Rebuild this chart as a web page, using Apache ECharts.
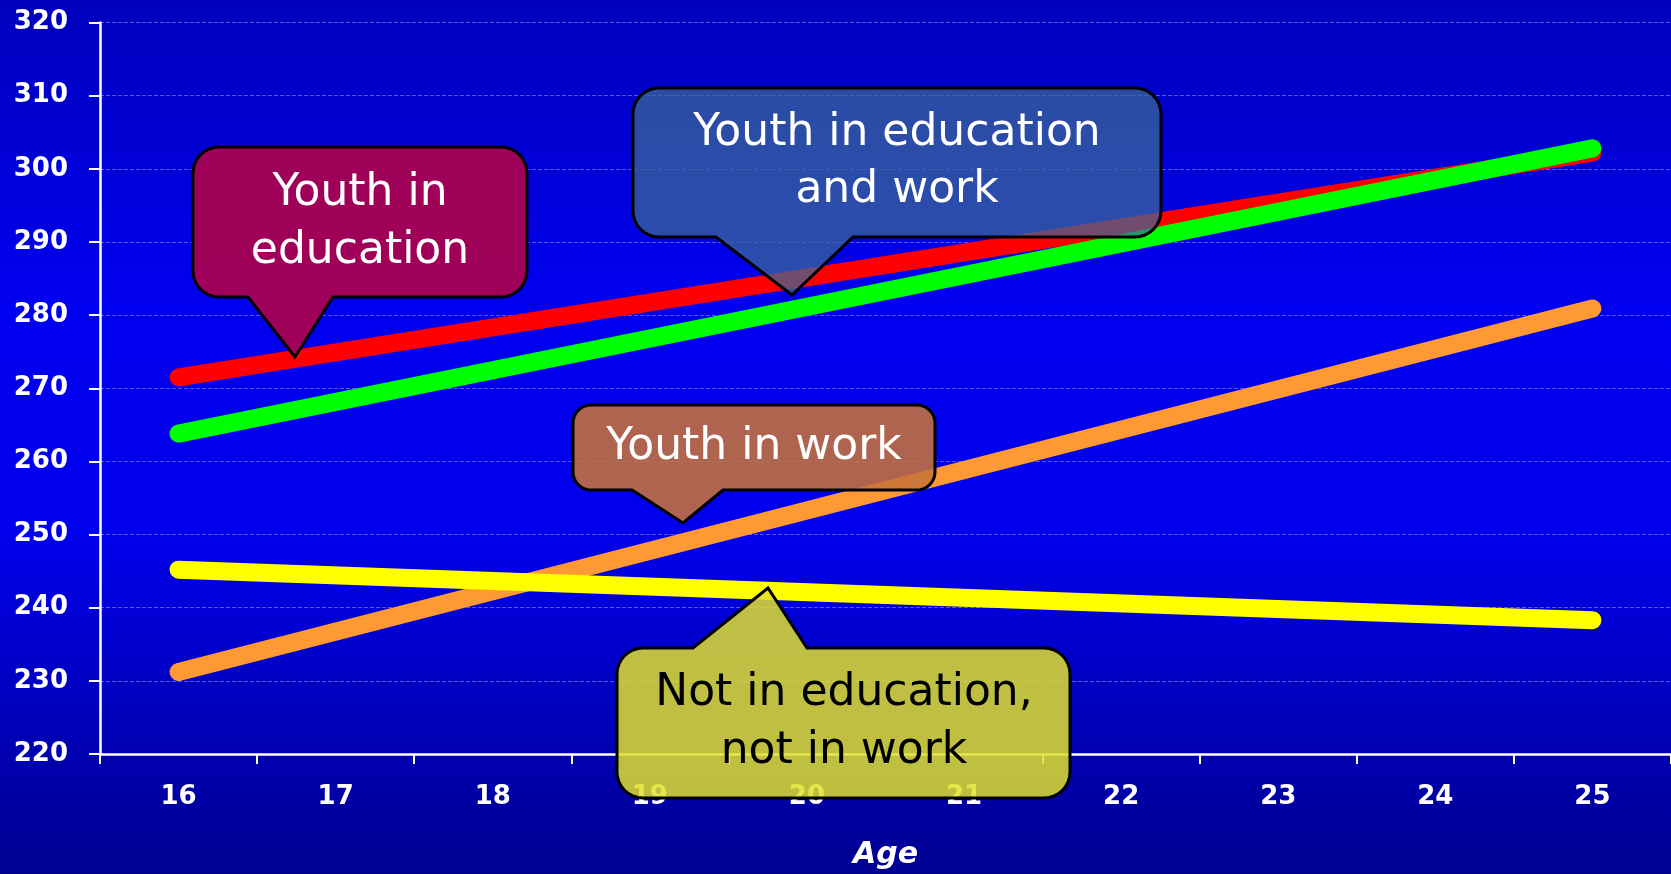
<!DOCTYPE html>
<html>
<head>
<meta charset="utf-8">
<title>Youth by age</title>
<script src="https://cdn.jsdelivr.net/npm/echarts@6/dist/echarts.min.js"></script>
<style>
    html, body { margin: 0; padding: 0; width: 100%; height: 100%; overflow: hidden; }
    #chart { width: 1671px; height: 874px; }
</style>
</head>
<body>
<div id="chart"></div>
<script>
// values read at age 16 and 25, straight lines in between
const ages = ['16', '17', '18', '19', '20', '21', '22', '23', '24', '25'];
const inEducation = [271.5, null, null, null, null, null, null, null, null, 302.2];
const inEducationAndWork = [263.8, null, null, null, null, null, null, null, null, 302.8];
const inWork = [231.2, null, null, null, null, null, null, null, null, 280.9];
const notInEducationNotInWork = [245.2, null, null, null, null, null, null, null, null, 238.3];

const FONT = '"DejaVu Sans", "Noto Sans", sans-serif';

// quarter arc points around a corner centre
function arc(cx, cy, r, a0, a1) {
    const pts = [];
    for (let i = 0; i <= 8; i++) {
        const a = a0 + (a1 - a0) * i / 8;
        pts.push([cx + r * Math.cos(a), cy + r * Math.sin(a)]);
    }
    return pts;
}

// rounded box with a pointer on the top or bottom edge, as polygon points
function calloutPoints(x0, y0, x1, y1, r, base0, base1, tipX, tipY) {
    const down = tipY > y1;
    const P = Math.PI;
    let pts = [];
    pts = pts.concat(arc(x0 + r, y0 + r, r, P, 1.5 * P));
    if (!down) pts.push([base0, y0], [tipX, tipY], [base1, y0]);
    pts = pts.concat(arc(x1 - r, y0 + r, r, 1.5 * P, 2 * P));
    pts = pts.concat(arc(x1 - r, y1 - r, r, 0, 0.5 * P));
    if (down) pts.push([base1, y1], [tipX, tipY], [base0, y1]);
    pts = pts.concat(arc(x0 + r, y1 - r, r, 0.5 * P, P));
    return pts;
}

function callout(points, fill, lines, cx, lineYs, color) {
    const els = [{
        type: 'polygon',
        z: 100,
        shape: { points: points },
        style: { fill: fill, stroke: '#000', lineWidth: 3, lineJoin: 'miter' }
    }];
    lines.forEach((t, i) => {
        els.push({
            type: 'text',
            z: 101,
            x: cx,
            y: lineYs[i],
            style: {
                text: t,
                fill: color,
                font: `44px ${FONT}`,
                textAlign: 'center',
                textVerticalAlign: 'middle'
            }
        });
    });
    return els;
}

const chart = echarts.init(document.getElementById('chart'));

const lineSeries = (name, data, color) => ({
    name: name,
    type: 'line',
    data: data,
    connectNulls: true,
    showSymbol: false,
    symbol: 'none',
    lineStyle: { color: color, width: 18, cap: 'round' },
    itemStyle: { color: color }
});

const option = {
    backgroundColor: {
        type: 'linear',
        x: 0, y: 0, x2: 0, y2: 1,
        colorStops: [
            { offset: 0, color: '#0000bc' },
            { offset: 0.35, color: '#0000f0' },
            { offset: 0.6, color: '#0000ee' },
            { offset: 1, color: '#000090' }
        ]
    },
    animation: false,
    grid: { left: 100, right: 0, top: 22.5, bottom: 120, outerBoundsMode: 'none' },
    xAxis: {
        type: 'category',
        data: ages,
        name: 'Age',
        nameLocation: 'middle',
        nameGap: 86,
        nameTextStyle: { color: '#fff', fontSize: 30, fontWeight: 'bold', fontStyle: 'italic', fontFamily: FONT },
        axisLine: { lineStyle: { color: '#fff', width: 2.5 } },
        axisTick: { show: true, length: 10, lineStyle: { color: '#fff', width: 2 } },
        axisLabel: { color: '#fff', fontSize: 26, fontWeight: 'bold', fontFamily: FONT, margin: 30 },
        splitLine: { show: false }
    },
    yAxis: {
        type: 'value',
        min: 220,
        max: 320,
        interval: 10,
        axisLine: { show: true, lineStyle: { color: '#fff', width: 2.5 } },
        axisTick: { show: true, length: 11, lineStyle: { color: '#fff', width: 2 } },
        axisLabel: { color: '#fff', fontSize: 26, fontWeight: 'bold', fontFamily: FONT, margin: 32 },
        splitLine: { show: true, lineStyle: { color: 'rgba(190,190,255,0.45)', type: [4, 2], width: 1 } }
    },
    series: [
        lineSeries('Youth in education', inEducation, '#ff0000'),
        lineSeries('Youth in education and work', inEducationAndWork, '#00ff00'),
        lineSeries('Youth in work', inWork, '#ff9933'),
        lineSeries('Not in education, not in work', notInEducationNotInWork, '#ffff00')
    ],
    graphic: [
        ...callout(calloutPoints(193, 147, 527, 297, 26, 248, 333, 295, 357),
            'rgba(166,0,82,0.96)', ['Youth in', 'education'], 360, [194, 252], '#fff'),
        ...callout(calloutPoints(633, 88, 1161, 237, 26, 716, 853, 792, 295),
            'rgba(60,105,150,0.72)', ['Youth in education', 'and work'], 897, [134, 191], '#fff'),
        ...callout(calloutPoints(573, 405, 935, 490, 18, 632, 723, 683, 523),
            'rgba(199,114,58,0.88)', ['Youth in work'], 754, [448], '#fff'),
        ...callout(calloutPoints(617, 648, 1070, 798, 26, 693, 807, 768, 588),
            'rgba(225,225,45,0.85)', ['Not in education,', 'not in work'], 844, [694, 752], '#000')
    ]
};

chart.setOption(option);
window.addEventListener('resize', () => chart.resize());
</script>
</body>
</html>
